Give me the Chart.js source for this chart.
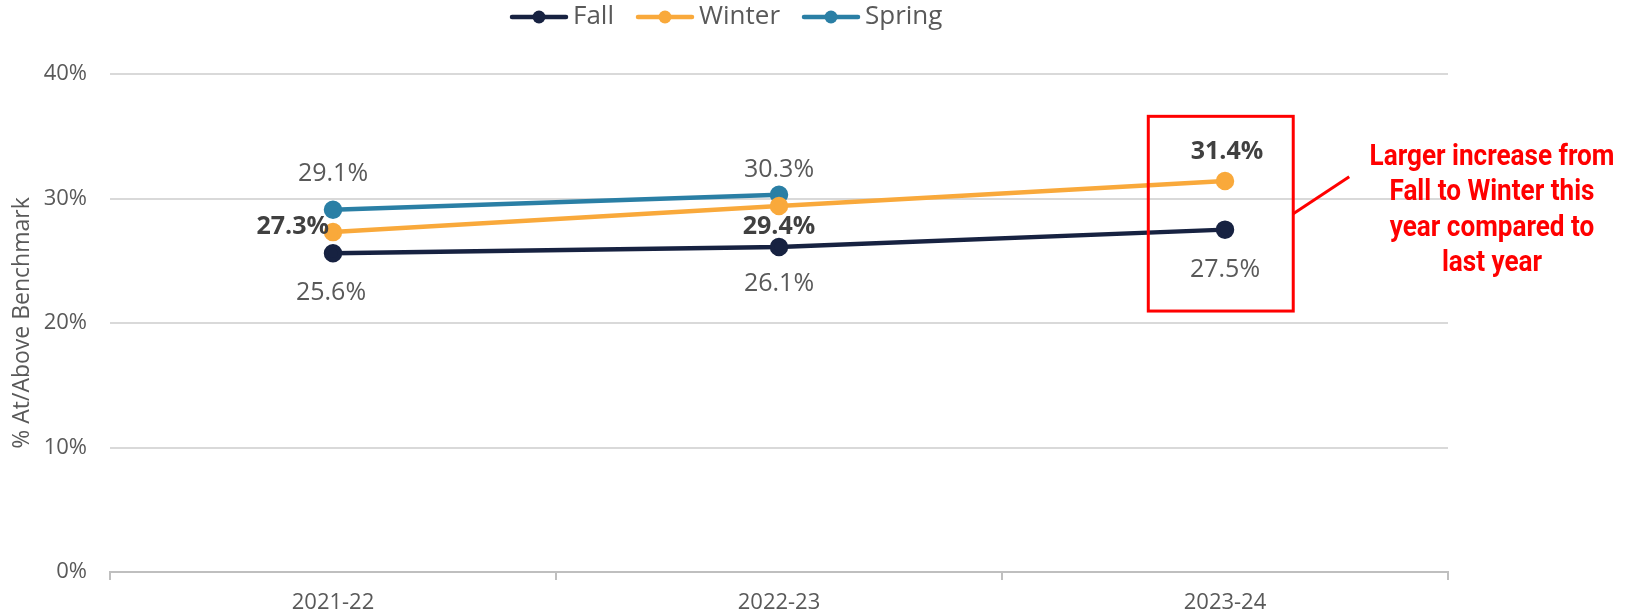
<!DOCTYPE html>
<html lang="en">
<head>
<meta charset="UTF-8">
<title>At/Above Benchmark</title>
<script src="https://cdn.jsdelivr.net/npm/chart.js"></script>
<style>
  html, body { margin: 0; padding: 0; background: #fff; }
  .wrap { width: 1631px; height: 615px; }
</style>
</head>
<body>
<div class="wrap"><canvas id="myChart" width="1631" height="615"></canvas></div>
<script>
  const years = ['2021-22', '2022-23', '2023-24'];
  const fall = [25.6, 26.1, 27.5];
  const winter = [27.3, 29.4, 31.4];
  const spring = [29.1, 30.3, null];
  const yTicks = [0, 10, 20, 30, 40];
  const note = ['Larger increase from', 'Fall to Winter this', 'year compared to', 'last year'];

  // where each value label sits next to its point (dx, dy in px)
  const labelPlace = {
    Fall:   [{dx: -2, dy: 40}, {dx: 0, dy: 37}, {dx: 0, dy: 40}],
    Winter: [{dx: -4, dy: -5, align: 'right', bold: true}, {dx: 0, dy: 21, bold: true}, {dx: 2, dy: -29, bold: true}],
    Spring: [{dx: 0, dy: -36}, {dx: 0, dy: -25}]
  };

  const valueLabels = {
    id: 'valueLabels',
    afterDatasetsDraw(chart) {
      const ctx = chart.ctx;
      chart.data.datasets.forEach((ds, i) => {
        const meta = chart.getDatasetMeta(i);
        const place = labelPlace[ds.label] || [];
        meta.data.forEach((pt, j) => {
          const v = ds.data[j];
          if (v == null) return;
          const p = place[j] || {dx: 0, dy: -25};
          ctx.save();
          ctx.font = (p.bold ? 'bold ' : '') + '25px "Open Sans"';
          ctx.fillStyle = p.bold ? '#404040' : '#595959';
          ctx.textAlign = p.align || 'center';
          ctx.textBaseline = 'middle';
          ctx.fillText(v.toFixed(1) + '%', pt.x + p.dx, pt.y + p.dy);
          ctx.restore();
        });
      });
    }
  };

  // legend: short line with a dot, then the name
  const lineLegend = {
    id: 'lineLegend',
    afterDraw(chart) {
      const ctx = chart.ctx;
      let x = 510;
      const y = 17;
      ctx.save();
      ctx.font = '26px "Open Sans"';
      ctx.textBaseline = 'middle';
      chart.data.datasets.forEach(ds => {
        ctx.strokeStyle = ds.borderColor;
        ctx.fillStyle = ds.borderColor;
        ctx.lineWidth = 4.5;
        ctx.lineCap = 'round';
        ctx.beginPath(); ctx.moveTo(x + 2, y); ctx.lineTo(x + 56, y); ctx.stroke();
        ctx.beginPath(); ctx.arc(x + 29, y, 6.5, 0, Math.PI * 2); ctx.fill();
        ctx.fillStyle = '#595959';
        ctx.fillText(ds.label, x + 63, y);
        x += 63 + ctx.measureText(ds.label).width + 22;
      });
      ctx.restore();
    }
  };

  const callout = {
    id: 'callout',
    afterDraw(chart) {
      const ctx = chart.ctx;
      const x = chart.scales.x, y = chart.scales.y;
      const step = x.getPixelForValue(1) - x.getPixelForValue(0);
      const cx = x.getPixelForValue(2);
      const left = cx - step * 0.172, right = cx + step * 0.153;
      const top = y.getPixelForValue(36.6), bottom = y.getPixelForValue(20.96);
      ctx.save();
      ctx.strokeStyle = '#ff0000';
      ctx.lineWidth = 3;
      ctx.strokeRect(left, top, right - left, bottom - top);
      ctx.beginPath();
      ctx.moveTo(right, top + (bottom - top) * 0.5);
      ctx.lineTo(right + 56, top + (bottom - top) * 0.31);
      ctx.stroke();
      ctx.fillStyle = '#ff0000';
      ctx.font = 'bold 29px Roboto';
      ctx.textAlign = 'center';
      ctx.textBaseline = 'middle';
      const tx = chart.chartArea.right + 44;
      note.forEach((line, k) => {
        ctx.save();
        ctx.translate(tx, top + 41 + k * 35.5);
        ctx.scale(0.9, 1);
        ctx.fillText(line, 0, 0);
        ctx.restore();
      });
      ctx.restore();
    }
  };

  const ctx = document.querySelector('#myChart');
  const myChart = new Chart(ctx, {
    type: 'line',
    data: {
      labels: years,
      datasets: [
        {label: 'Fall', data: fall, borderColor: '#172241', backgroundColor: '#172241'},
        {label: 'Winter', data: winter, borderColor: '#f9a93b', backgroundColor: '#f9a93b'},
        {label: 'Spring', data: spring, borderColor: '#2a7fa5', backgroundColor: '#2a7fa5'}
      ].map(d => Object.assign(d, {
        borderWidth: 4.5,
        pointRadius: 7,
        pointHoverRadius: 7,
        tension: 0
      }))
    },
    options: {
      responsive: false,
      animation: false,
      layout: {padding: {top: 74, right: 183, left: 5, bottom: 0}},
      plugins: {
        legend: {display: false},
        tooltip: {enabled: false}
      },
      scales: {
        x: {
          offset: true,
          grid: {offset: true, drawOnChartArea: false, drawTicks: true, tickLength: 8, color: '#bfbfbf', lineWidth: 2},
          border: {color: '#bfbfbf', width: 2},
          ticks: {color: '#595959', font: {family: 'Open Sans', size: 22}, padding: 10},
          afterFit(scale) { scale.height = 43; }
        },
        y: {
          min: 0,
          max: 40,
          afterBuildTicks(scale) { scale.ticks = yTicks.map(v => ({value: v})); },
          grid: {color: '#d9d9d9', lineWidth: 2, drawTicks: false},
          border: {display: false},
          ticks: {
            color: '#595959',
            font: {family: 'Open Sans', size: 22},
            padding: 23,
            callback: v => v + '%'
          },
          title: {
            display: true,
            text: '% At/Above Benchmark',
            color: '#595959',
            font: {family: 'Open Sans', size: 23},
            padding: {top: 4, bottom: 0}
          },
          afterFit(scale) { scale.width = 105; }
        }
      }
    },
    plugins: [valueLabels, lineLegend, callout]
  });
</script>
</body>
</html>
